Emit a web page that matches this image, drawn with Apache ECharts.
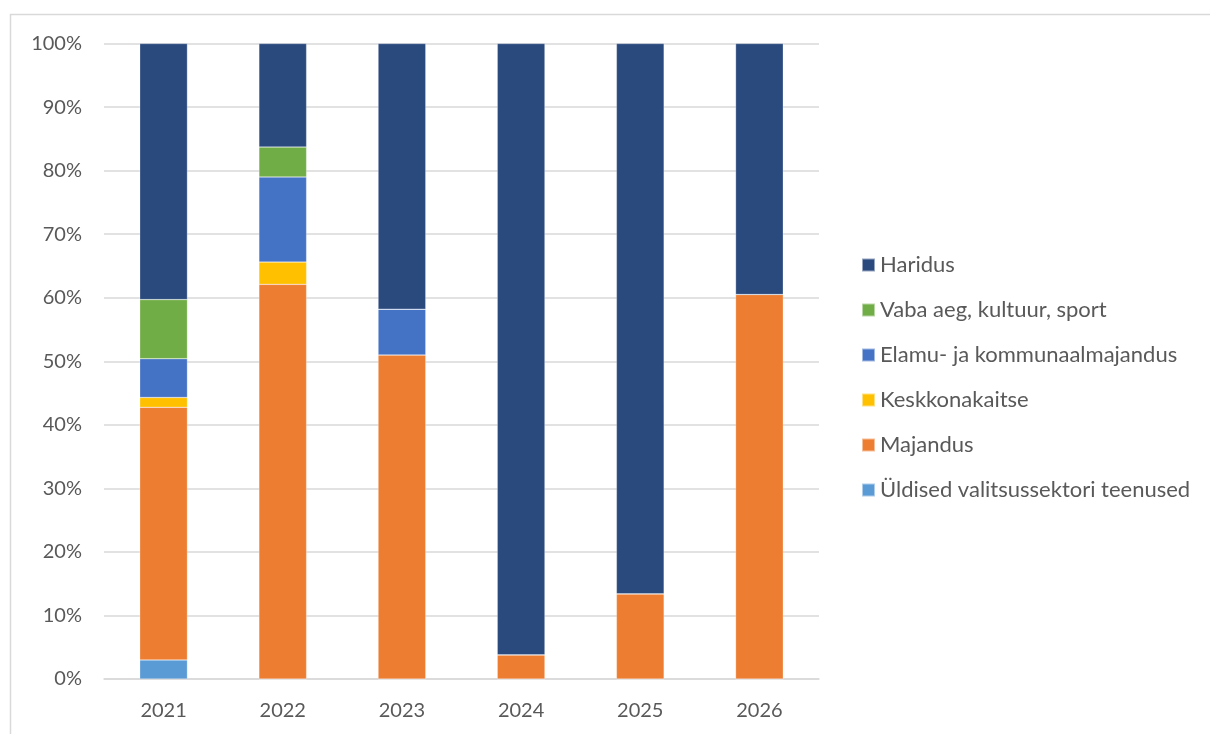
<!DOCTYPE html>
<html>
<head>
<meta charset="utf-8">
<script src="https://cdn.jsdelivr.net/npm/echarts@6/dist/echarts.min.js"></script>
<style>
  html, body { margin: 0; padding: 0; background: #fff; }
  #main { width: 1210px; height: 734px; }
</style>
</head>
<body>
<div id="main"></div>
<script>
var myChart = echarts.init(document.getElementById('main'));

// andmed (protsent aasta kogusummast)
var years = ['2021', '2022', '2023', '2024', '2025', '2026'];
var uldised = [3.0, 0, 0, 0, 0, 0];
var majandus = [39.75, 62.1, 51.0, 3.8, 13.4, 60.5];
var keskkond = [1.55, 3.5, 0, 0, 0, 0];
var elamu = [6.1, 13.4, 7.2, 0, 0, 0];
var vabaAeg = [9.3, 4.7, 0, 0, 0, 0];
var haridus = [40.3, 16.3, 41.8, 96.2, 86.6, 39.5];

var names = ['Üldised valitsussektori teenused', 'Majandus', 'Keskkonakaitse',
             'Elamu- ja kommunaalmajandus', 'Vaba aeg, kultuur, sport', 'Haridus'];
var colors = ['#5B9BD5', '#ED7D31', '#FFC000', '#4472C4', '#70AD47', '#2A4A7E'];
var values = [uldised, majandus, keskkond, elamu, vabaAeg, haridus];

var font = 'Lato';

var series = names.map(function (n, i) {
    return {
        name: n,
        type: 'bar',
        stack: 'kokku',
        barWidth: '40%',
        itemStyle: { color: colors[i], borderColor: 'rgba(255,255,255,0.5)', borderWidth: 0.5 },
        data: values[i]
    };
});

option = {
    animation: false,
    color: colors,
    textStyle: { fontFamily: font },
    grid: {
        left: 104,
        right: 391,
        top: 43.5,
        bottom: 55
    },
    legend: {
        orient: 'vertical',
        left: 861,
        top: 254,
        padding: 0,
        itemWidth: 13,
        itemHeight: 13,
        itemGap: 23,
        icon: 'rect',
        data: names.slice().reverse(),
        textStyle: { color: '#595959', fontSize: 22, lineHeight: 22, fontFamily: font }
    },
    xAxis: {
        type: 'category',
        data: years,
        axisTick: { show: false },
        axisLine: { lineStyle: { color: '#D9D9D9', width: 1.5 } },
        axisLabel: { color: '#595959', fontSize: 20, margin: 22, fontFamily: font }
    },
    yAxis: {
        type: 'value',
        min: 0,
        max: 100,
        interval: 10,
        axisLine: { show: false },
        axisTick: { show: false },
        splitLine: { lineStyle: { color: '#D9D9D9', width: 1.5 } },
        axisLabel: { color: '#595959', fontSize: 20, margin: 22, fontFamily: font, formatter: '{value}%' }
    },
    graphic: [{
        type: 'rect',
        shape: { x: 10.5, y: 14.5, width: 1250, height: 800 },
        style: { fill: 'none', stroke: '#D9D9D9', lineWidth: 1.5 },
        silent: true
    }],
    series: series
};
myChart.setOption(option);
</script>
</body>
</html>
